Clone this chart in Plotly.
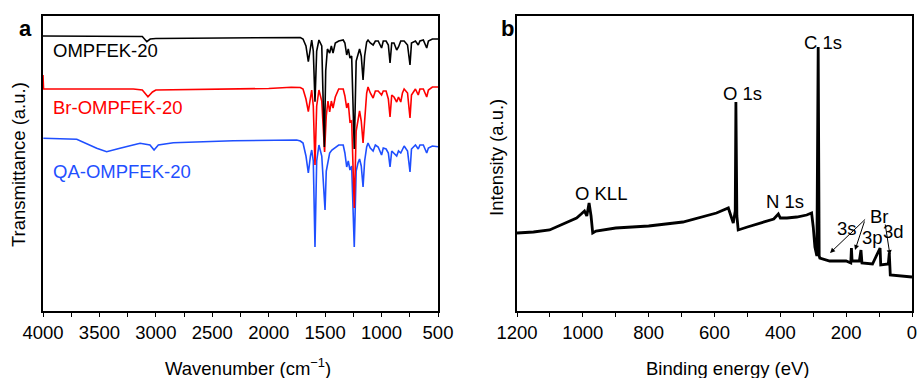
import plotly.graph_objects as go

# ---------------- FTIR data (panel a) ----------------
ftir_black_wn = [4000, 3200, 3120, 3080, 3050, 3000, 2500, 2000, 1800, 1720, 1696, 1670, 1649, 1630, 1619, 1605,
                 1590, 1575, 1555, 1530, 1507, 1495, 1480, 1460, 1445, 1430, 1410, 1380, 1340, 1325, 1309, 1295,
                 1280, 1265, 1242, 1225, 1209, 1195, 1180, 1164, 1150, 1132, 1120, 1100, 1075, 1055, 1030, 1000,
                 985, 960, 940, 925, 910, 890, 866, 850, 830, 800, 770, 748, 735, 700, 675, 660, 630, 600, 585, 550, 500]
ftir_black_t = [275, 275, 274.5, 269.3, 272, 272.5, 273, 273.5, 273.7, 273.5, 272, 265, 249.3, 265, 271, 260,
                209.3, 260, 271, 265, 164, 240, 262, 258, 265, 258, 268, 270, 271, 268, 256, 262,
                253, 255, 162, 250, 256, 262, 255, 231, 255, 269, 271, 268, 266, 270, 270, 263,
                270, 270, 266, 248, 268, 268, 261, 264, 270, 270, 266, 246, 268, 270, 266, 270, 271, 263, 270, 272, 272]

ftir_red_wn = [4000, 3995, 3200, 3120, 3070, 3030, 3000, 2500, 2000, 1800, 1720, 1696, 1670, 1649, 1630, 1619, 1605,
               1590, 1575, 1555, 1530, 1505, 1490, 1475, 1460, 1445, 1430, 1410, 1380, 1340, 1325, 1309, 1295,
               1280, 1265, 1242, 1225, 1209, 1195, 1180, 1164, 1150, 1132, 1120, 1100, 1075, 1055, 1030, 1000,
               985, 960, 940, 925, 910, 890, 866, 850, 830, 815, 800, 770, 748, 735, 700, 675, 660, 630, 600, 585, 550, 500]
ftir_red_t = [236, 222, 222, 221, 214.3, 219, 221, 222, 222.5, 223.7, 223.5, 222, 212, 199.3, 212, 221, 205,
              146, 205, 221, 210, 159, 195, 210, 199, 210, 203, 214, 222, 222, 215, 203, 208,
              189, 190, 103, 180, 193, 200, 190, 168, 190, 218, 224, 218, 213, 220, 220, 216,
              220, 220, 212, 194, 216, 214, 209, 214, 209, 218, 222, 218, 193, 216, 222, 216, 222, 222, 214, 221, 224, 224]

ftir_blue_wn = [3997, 3701, 3524, 3436, 3318, 3140, 3052, 3016, 2978, 2934, 2845, 2314, 1752, 1720, 1696, 1670, 1649,
                1630, 1619, 1605, 1590, 1575, 1555, 1530, 1501, 1490, 1475, 1460, 1440, 1410, 1380, 1340, 1325,
                1309, 1295, 1280, 1265, 1242, 1225, 1209, 1195, 1180, 1164, 1150, 1132, 1120, 1100, 1075, 1055,
                1030, 1000, 985, 960, 940, 925, 910, 890, 866, 850, 830, 800, 770, 748, 735, 700, 675, 660, 630,
                600, 585, 550, 500]
ftir_blue_t = [172.7, 171.7, 162.7, 159.3, 162.7, 167.7, 166, 161, 166, 167, 168.3, 170.3, 171, 170, 168, 155, 138,
               155, 161, 150, 64, 150, 166, 155, 101, 140, 151, 158, 161, 164, 166, 166, 158,
               144, 150, 141, 145, 64, 140, 148, 152, 145, 124, 150, 164, 168, 163, 160, 166,
               164, 156, 163, 162, 158, 144, 160, 158, 155, 160, 158, 165, 160, 139, 162, 166, 162, 166, 166,
               158, 163, 165, 164.3]

ftir_names = ["OMPFEK-20", "Br-OMPFEK-20", "QA-OMPFEK-20"]

# ---------------- XPS data (panel b) ----------------
xps_be = [1200, 1150, 1101, 1069, 1019, 1005, 995, 988, 981, 975, 970, 960, 900, 800, 696, 594, 558, 548, 543,
          537, 535, 532, 528, 500, 420, 406, 400, 380, 350, 320, 305, 300, 295, 289, 285, 282, 280, 250, 200,
          186, 184, 182, 160, 155, 152, 120, 97, 95, 72, 69, 66, 0]
xps_int = [78, 79, 81, 86, 93, 97, 100, 95, 108, 95, 78, 80, 83, 85, 89, 98, 103, 93, 88,
           100, 209, 95, 81, 84, 92, 97, 93, 93, 94, 96, 98, 84, 64, 55, 264, 55, 53, 50, 50,
           48, 63, 50, 50, 61, 48, 47, 63, 46, 47, 58, 36, 34]

FONT = "Arial, Liberation Sans, sans-serif"
FS = 18.5
BLUE = "#1f4fff"

fig = go.Figure()
# draw order: blue (bottom), red, black (top)
for wn, t, col in [(ftir_blue_wn, ftir_blue_t, BLUE),
                   (ftir_red_wn, ftir_red_t, "#ff0000"),
                   (ftir_black_wn, ftir_black_t, "#000000")]:
    fig.add_trace(go.Scatter(x=wn, y=t, mode="lines", line=dict(color=col, width=1.6),
                             xaxis="x", yaxis="y", showlegend=False, hoverinfo="skip"))

fig.add_trace(go.Scatter(x=xps_be, y=xps_int, mode="lines", line=dict(color="#000000", width=2.8),
                         xaxis="x2", yaxis="y2", showlegend=False, hoverinfo="skip"))

ydom = [1 - 311 / 378, 1 - 16 / 378]
axis_common = dict(showline=True, linecolor="black", linewidth=1.5, mirror=True, showgrid=False,
                   zeroline=False, ticks="outside", ticklen=4, tickwidth=1.3, tickcolor="black",
                   automargin=False, ticklabeloverflow="allow",
                   tickfont=dict(family=FONT, size=FS, color="black"))
yaxis_common = dict(domain=ydom, range=[0, 295], showline=True, linecolor="black", linewidth=1.5, mirror=True,
                    showticklabels=False, ticks="", showgrid=False, zeroline=False, automargin=False)
fig.update_layout(
    template="none",
    width=917, height=378, margin=dict(l=0, r=0, t=0, b=0, pad=0),
    paper_bgcolor="white", plot_bgcolor="white",
    xaxis=dict(domain=[43 / 917, 438 / 917], range=[4000, 500], dtick=500, tick0=500,
               minor=dict(dtick=250, ticks="outside", ticklen=4, tickwidth=1.3, tickcolor="black"),
               anchor="y", **axis_common),
    yaxis=dict(anchor="x", **yaxis_common),
    xaxis2=dict(domain=[517 / 917, 912 / 917], range=[1200, 0], dtick=200, tick0=0,
                minor=dict(dtick=100, ticks="outside", ticklen=4, tickwidth=1.3, tickcolor="black"),
                anchor="y2", **axis_common),
    yaxis2=dict(anchor="x2", **yaxis_common),
)

ann = []
# series labels panel a
for name, col, yv in zip(ftir_names, ["#000000", "#ff0000", BLUE], [261, 204, 139.3]):
    ann.append(dict(x=3925, y=yv, xref="x", yref="y", text=name, showarrow=False, xanchor="left",
                    yanchor="middle", font=dict(family=FONT, size=FS, color=col)))
# XPS labels
for txt, xv, yv in [("C 1s", 270, 269), ("O 1s", 515, 218), ("O KLL", 946, 118), ("N 1s", 387, 110),
                    ("Br", 100, 95), ("3s", 196, 83), ("3p", 120, 74), ("3d", 55, 80)]:
    ann.append(dict(x=xv, y=yv, xref="x2", yref="y2", text=txt, showarrow=False, xanchor="center",
                    yanchor="middle", font=dict(family=FONT, size=FS, color="black")))
# arrows Br
for (hx, hy, tx, ty) in [(249, 58, 138, 93), (173, 61, 143, 91), (67, 56, 82, 88)]:
    ann.append(dict(x=hx, y=hy, ax=tx, ay=ty, xref="x2", yref="y2", axref="x2", ayref="y2", text="",
                    showarrow=True, arrowhead=2, arrowsize=1, arrowwidth=1, arrowcolor="black"))


def paper_text(txt, px, py, size=FS, angle=0):
    return dict(x=px / 917, y=1 - py / 378, xref="paper", yref="paper", text=txt, showarrow=False,
                xanchor="center", yanchor="middle", textangle=angle,
                font=dict(family=FONT, size=size, color="black"))


ann.append(paper_text("<b>a</b>", 25, 28, 22))
ann.append(paper_text("<b>b</b>", 507, 28, 22))
ann.append(paper_text("Wavenumber (cm<sup>\u22121</sup>)", 248, 367))
ann.append(paper_text("Binding energy (eV)", 728, 368))
ann.append(paper_text("Transmittance (a.u.)", 18, 165, angle=-90))
ann.append(paper_text("Intensity (a.u.)", 497, 158, angle=-90))
fig.update_layout(annotations=ann)

fig.write_html("out.html", config={"displayModeBar": False},
               post_script="document.body.style.margin='0';document.body.style.overflow='hidden';")
